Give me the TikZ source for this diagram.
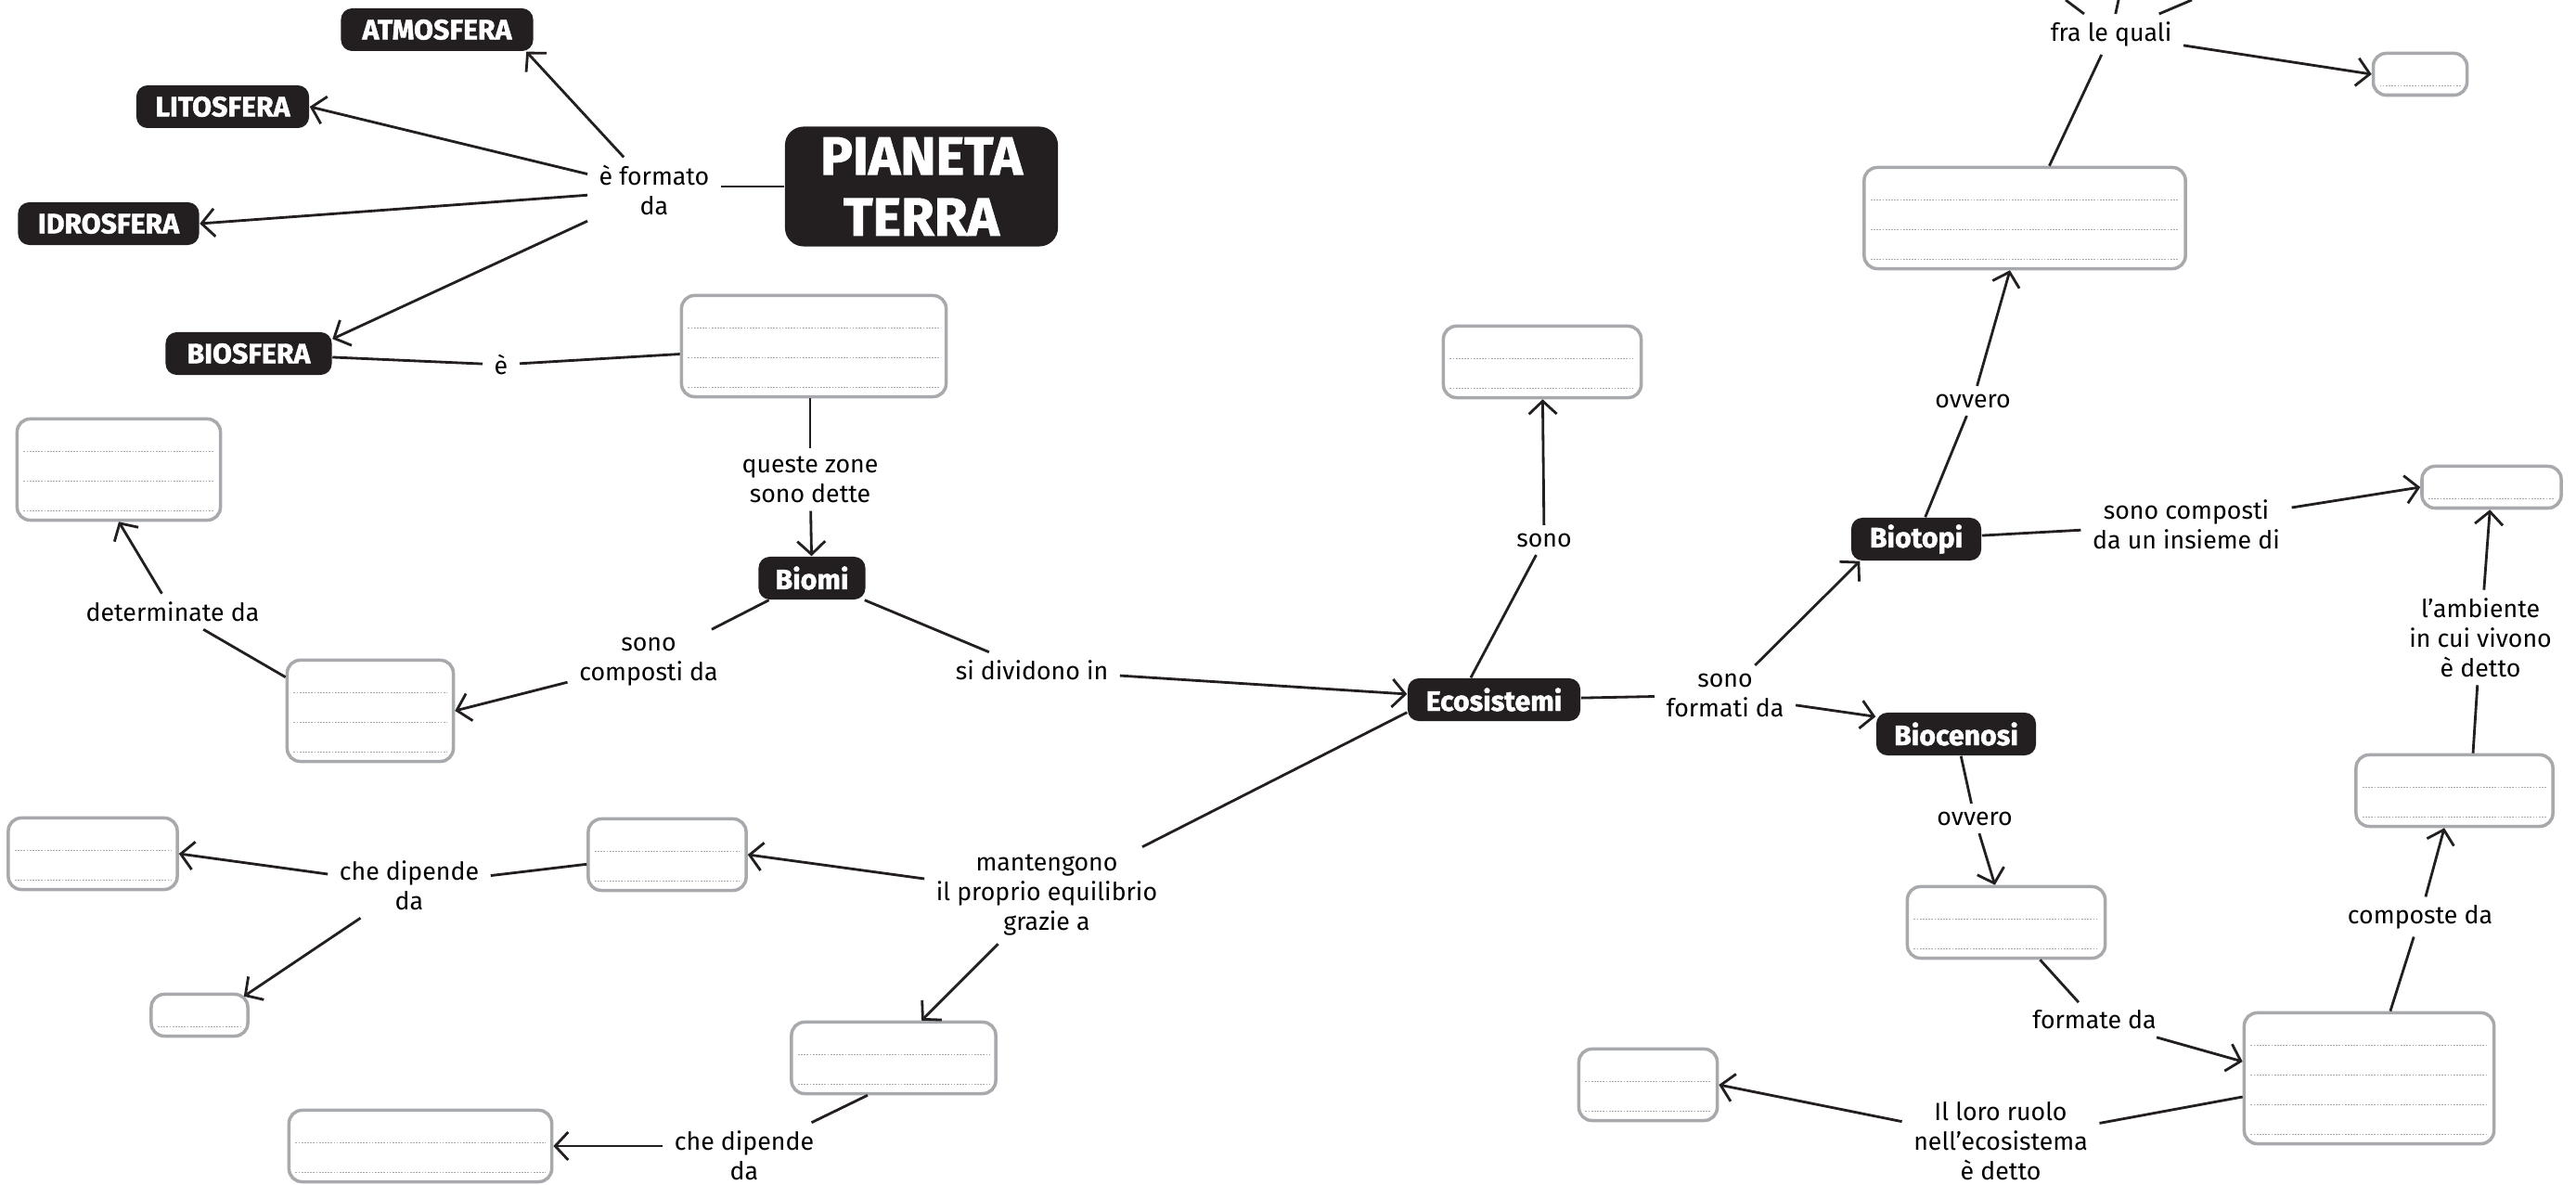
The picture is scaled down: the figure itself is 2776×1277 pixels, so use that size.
\documentclass[tikz,border=0pt]{standalone}
\usepackage{fontspec}
\setmainfont{Fira Sans}
\newfontfamily\heavyfont{Fira Sans}[BoldFeatures={FakeBold=1.6}]
\usepackage{tikz}
\usetikzlibrary{arrows.meta, calc, positioning}
\definecolor{inkblack}{HTML}{231F20}
\definecolor{boxgray}{HTML}{A7A9AC}
\definecolor{rulegray}{HTML}{A7A9AC}
\tikzstyle{topic} = [rectangle, rounded corners=0.12cm, fill=inkblack, text=white, font=\fontsize{8.6}{10}\selectfont\heavyfont\bfseries, minimum height=0.46cm, inner sep=0pt]
\tikzstyle{blank} = [rectangle, rounded corners=0.14cm, draw=boxgray, line width=1pt, fill=white, inner sep=0pt]
\tikzstyle{verb} = [align=center, font=\fontsize{7.6}{9.1}\selectfont, inner xsep=0.12cm, inner ysep=0.08cm]
\tikzstyle{writeline} = [rulegray, line width=0.5pt, dash pattern=on 0.5pt off 0.4pt]
\tikzstyle{link} = [inkblack, line width=0.8pt]
\tikzstyle{arrow} = [inkblack, line width=0.8pt, -{Straight Barb[length=0.14cm, width=0.3cm]}]
\tikzset{nlines/.style={minimum height={0.13cm+0.32cm*#1}, path picture={
	\foreach \k in {1,...,#1}
		\draw[writeline] ($(path picture bounding box.south west)+(0.07cm,{0.1cm+(\k-1)*0.32cm})$) -- ($(path picture bounding box.south east)+(-0.07cm,{0.1cm+(\k-1)*0.32cm})$);
}}}

\begin{document}
\begin{tikzpicture}[x=0.01cm, y=-0.01cm]
	\useasboundingbox[fill=white] (0,0) rectangle (2776,1277);
	% main topics
	\node (Terra) [topic, minimum width=2.94cm, minimum height=1.29cm, rounded corners=0.2cm, align=center, font=\fontsize{16.5}{18.7}\selectfont\heavyfont\bfseries] at (993,201) {PIANETA\\TERRA};
	\node (Atmosfera) [topic, minimum width=2.07cm] at (471,32) {ATMOSFERA};
	\node (Litosfera) [topic, minimum width=1.86cm] at (240,115) {LITOSFERA};
	\node (Idrosfera) [topic, minimum width=1.95cm] at (117,241) {IDROSFERA};
	\node (Biosfera) [topic, minimum width=1.79cm] at (268,381) {BIOSFERA};
	\node (Biomi) [topic, minimum width=1.15cm] at (875,623) {Biomi};
	\node (Ecosistemi) [topic, minimum width=1.86cm] at (1610,754) {Ecosistemi};
	\node (Biotopi) [topic, minimum width=1.40cm] at (2065,581) {Biotopi};
	\node (Biocenosi) [topic, minimum width=1.72cm] at (2108,791) {Biocenosi};
	% boxes to fill in
	\node (Zone) [blank, nlines=3, minimum width=2.85cm] at (877,373) {};
	\node (Fattori) [blank, nlines=3, minimum width=2.19cm] at (128,506) {};
	\node (Componenti) [blank, nlines=3, minimum width=1.79cm] at (399,766) {};
	\node (DipendeA) [blank, nlines=2, minimum width=1.82cm] at (100,920) {};
	\node (DipendeB) [blank, nlines=1, minimum width=1.04cm] at (215,1094) {};
	\node (EquilibrioA) [blank, nlines=2, minimum width=1.70cm] at (719,921) {};
	\node (EquilibrioB) [blank, nlines=2, minimum width=2.20cm] at (963,1140) {};
	\node (DipendeC) [blank, nlines=2, minimum width=2.83cm] at (453,1235) {};
	\node (TipiEco) [blank, nlines=2, minimum width=2.13cm] at (1662,390) {};
	\node (AmbientiFisici) [blank, nlines=3, minimum width=3.46cm] at (2182,235) {};
	\node (Esempio) [blank, nlines=1, minimum width=1.01cm] at (2608,80) {};
	\node (Habitat) [blank, nlines=1, minimum width=1.50cm] at (2685,525) {};
	\node (Popolazioni) [blank, nlines=2, minimum width=2.12cm] at (2645,852) {};
	\node (Comunita) [blank, nlines=2, minimum width=2.13cm] at (2162,994) {};
	\node (Organismi) [blank, nlines=4, minimum width=2.69cm] at (2553,1162) {};
	\node (Ruolo) [blank, nlines=2, minimum width=1.49cm] at (1776,1169) {};
	% linking words
	\node (FormatoDa) [verb] at (705,205) {è formato\\da};
	\node (EVerb) [verb] at (540,393) {è};
	\node (QuesteZone) [verb] at (873,517) {queste zone\\sono dette};
	\node (DeterminateDa) [verb] at (186,659) {determinate da};
	\node (CompostiDa) [verb] at (699,713) {sono\\composti da};
	\node (SiDividono) [verb] at (1112,722) {si dividono in};
	\node (CheDipendeA) [verb] at (441,954) {che dipende\\da};
	\node (Mantengono) [verb] at (1128,965) {mantengono\\il proprio equilibrio\\grazie a};
	\node (CheDipendeB) [verb] at (802,1245) {che dipende\\da};
	\node (Sono) [verb] at (1664,582) {sono};
	\node (FormatiDa) [verb] at (1859,749) {sono\\formati da};
	\node (OvveroA) [verb] at (2126,432) {ovvero};
	\node (FraLe) [verb] at (2275,37) {fra le quali};
	\node (InsiemeDi) [verb] at (2356,565) {sono composti\\da un insieme di};
	\node (AmbienteDetto) [verb] at (2673,687) {l’ambiente\\in cui vivono\\è detto};
	\node (OvveroB) [verb] at (2128,882) {ovvero};
	\node (ComposteDa) [verb] at (2608,988) {composte da};
	\node (FormateDa) [verb] at (2257,1099) {formate da};
	\node (LoroRuolo) [verb] at (2156,1230) {Il loro ruolo\\nell’ecosistema\\è detto};
	\coordinate (UpA) at (2226,0);
	\coordinate (UpB) at (2283,0);
	\coordinate (UpC) at (2362,0);
	% connectors
	\draw [link] (Terra.west) -- (Terra.west -| FormatoDa.east);
	\draw [arrow] (FormatoDa) -- ([xshift=-0.08cm]Atmosfera.south east);
	\draw [arrow] (FormatoDa) -- (Litosfera.east);
	\draw [arrow] (FormatoDa) -- (Idrosfera.east);
	\draw [arrow] (FormatoDa) -- ([yshift=-0.08cm]Biosfera.north east);
	\draw [link] (Zone) -- (EVerb);
	\draw [link] (EVerb) -- (Biosfera);
	\draw [link] (Zone.south -| QuesteZone) -- (QuesteZone);
	\draw [arrow] (QuesteZone) -- (Biomi);
	\draw [link] (Biomi) -- (CompostiDa);
	\draw [arrow] (CompostiDa) -- (Componenti.east);
	\draw [link] ([yshift=-0.2cm]Componenti.north west) -- (DeterminateDa);
	\draw [arrow] (DeterminateDa) -- (Fattori.south);
	\draw [link] (Biomi) -- (SiDividono);
	\draw [arrow] (SiDividono) -- (Ecosistemi);
	\draw [link] ([xshift=-0.25cm]Ecosistemi.north) -- (Sono);
	\draw [arrow] (Sono) -- (TipiEco);
	\draw [link] (Ecosistemi) -- (FormatiDa);
	\draw [arrow] (FormatiDa) -- ([xshift=0.1cm]Biotopi.south west);
	\draw [arrow] (FormatiDa) -- ([yshift=-0.05cm]Biocenosi.north west);
	\draw [link] (Biotopi) -- (OvveroA);
	\draw [arrow] (OvveroA) -- (AmbientiFisici);
	\draw [link] (AmbientiFisici) -- (FraLe);
	\draw [link] (FraLe) -- (UpA);
	\draw [link] (FraLe) -- (UpB);
	\draw [link] (FraLe) -- (UpC);
	\draw [arrow] (FraLe) -- (Esempio.west);
	\draw [link] (Biotopi) -- (InsiemeDi);
	\draw [arrow] (InsiemeDi) -- (Habitat.west);
	\draw [link] ([xshift=0.2cm]Popolazioni.north) -- (AmbienteDetto);
	\draw [arrow] (AmbienteDetto) -- (Habitat);
	\draw [link] (Biocenosi) -- (OvveroB);
	\draw [arrow] (OvveroB) -- (Comunita);
	\draw [link] (Comunita) -- (FormateDa);
	\draw [arrow] (FormateDa) -- ([yshift=0.18cm]Organismi.west);
	\draw [link] (Organismi) -- (ComposteDa);
	\draw [arrow] (ComposteDa) -- (Popolazioni);
	\draw [link] ([yshift=-0.2cm]Organismi.west) -- (LoroRuolo);
	\draw [arrow] (LoroRuolo) -- (Ruolo.east);
	\draw [link] ([yshift=0.1cm]Ecosistemi.south west) -- (Mantengono);
	\draw [arrow] (Mantengono) -- (EquilibrioA.east);
	\draw [arrow] (Mantengono) -- ([xshift=0.3cm]EquilibrioB.north);
	\draw [link] (EquilibrioA) -- (CheDipendeA);
	\draw [arrow] (CheDipendeA) -- (DipendeA.east);
	\draw [arrow] (CheDipendeA) -- ([xshift=-0.06cm, yshift=-0.04cm]DipendeB.north east);
	\draw [link] ([xshift=-0.28cm]EquilibrioB.south) -- (CheDipendeB);
	\draw [arrow] (CheDipendeB.west |- DipendeC.east) -- (DipendeC.east);
\end{tikzpicture}
\end{document}
